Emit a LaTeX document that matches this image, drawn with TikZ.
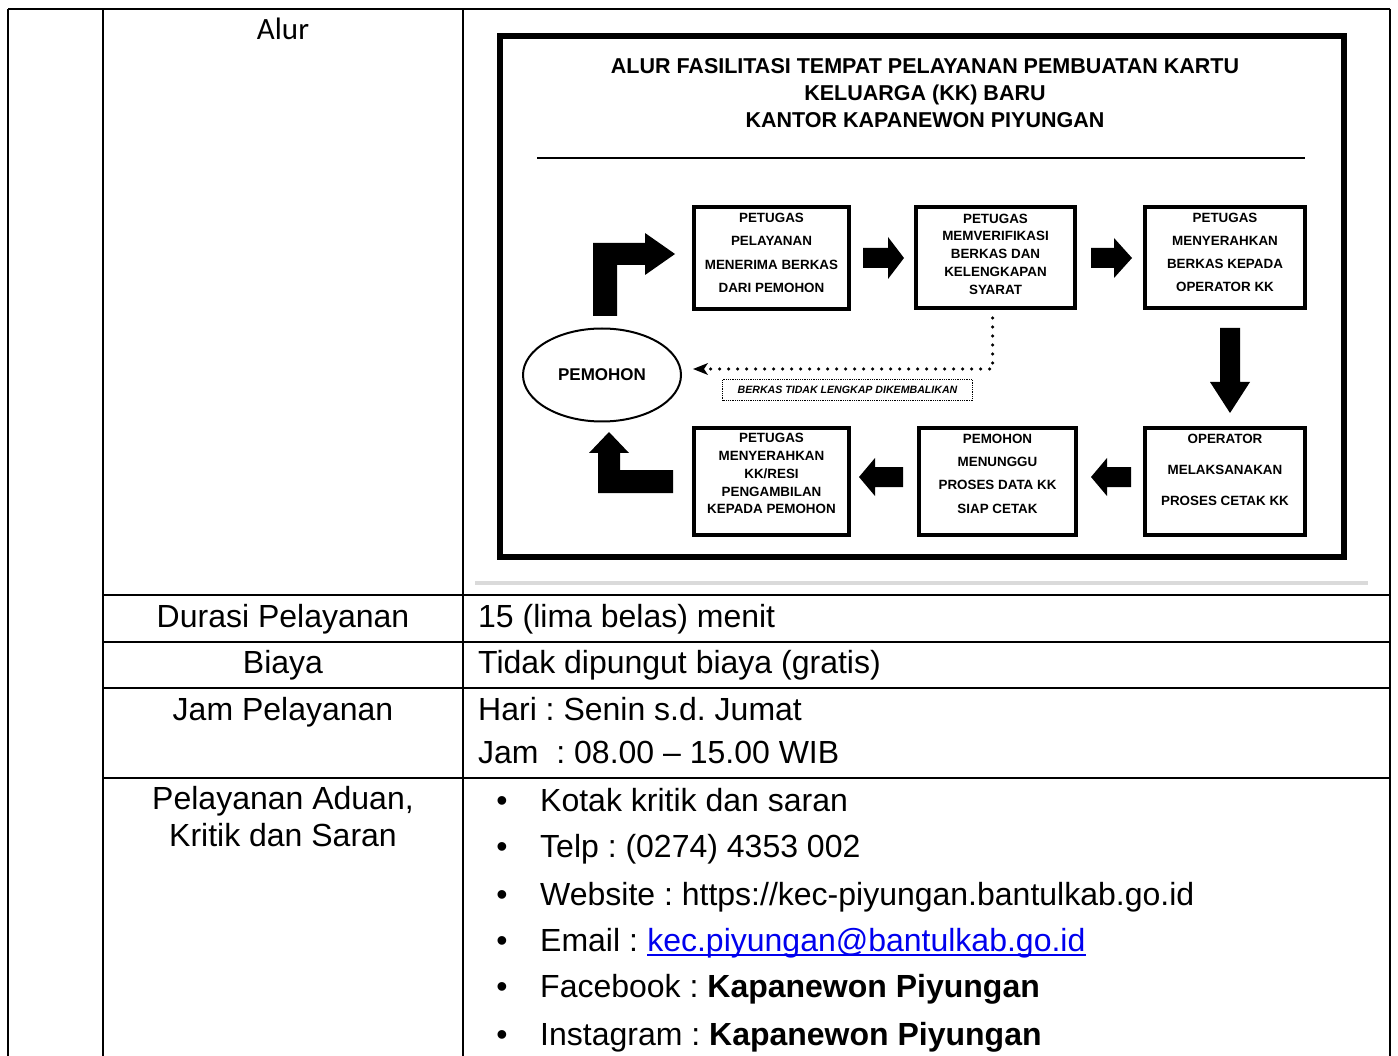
\documentclass[tikz,border=0pt]{standalone}
\usepackage{fontspec}
\setmainfont{Liberation Sans}
\newfontfamily\calfont{Carlito}
\usetikzlibrary{arrows.meta,shapes.geometric}
\definecolor{linkblue}{RGB}{0,0,238}
\definecolor{rulegray}{RGB}{218,218,218}
\frenchspacing
\begin{document}
\begin{tikzpicture}[x=1pt,y=-1pt,
  tline/.style={line width=2.4pt},
  lbl/.style={inner sep=0pt, anchor=base, font=\fontsize{32}{38}\selectfont},
  rtxt/.style={inner sep=0pt, anchor=base west, font=\fontsize{32}{38}\selectfont},
  bul/.style={inner sep=0pt, anchor=base, font=\fontsize{32}{38}\selectfont},
  fbox/.style={draw, line width=4pt, inner sep=0pt, align=center},
  tA/.style={font=\bfseries\fontsize{13.4}{23.3}\selectfont},
  tB/.style={font=\bfseries\fontsize{13.4}{17.8}\selectfont},
  tC/.style={font=\bfseries\fontsize{13.4}{31}\selectfont},
  blk/.style={fill=black},
  dots/.style={line width=3.5pt, dash pattern=on 0pt off 9pt, line cap=round},
  ttl/.style={inner sep=0pt, anchor=base, font=\bfseries\fontsize{21.5}{24}\selectfont}
]
\useasboundingbox (0,0) rectangle (1398,1056);
% table
\draw[tline] (8,9) -- (1390,9);
\draw[tline] (8,9) -- (8,1056);
\draw[tline] (103,9) -- (103,1056);
\draw[tline] (463,9) -- (463,1056);
\draw[tline] (1390,9) -- (1390,1056);
\foreach \yy in {595,642,688,778} \draw[tline] (103,\yy) -- (1390,\yy);
% left column labels
\node[inner sep=0pt, anchor=base, font=\calfont\fontsize{31}{36}\selectfont] (lalur) at (283,40) {Alur};
\node[lbl] (ldur) at (283,627) {Durasi Pelayanan};
\node[lbl] (lbia) at (283,673) {Biaya};
\node[lbl] (ljam) at (283,720) {Jam Pelayanan};
\node[lbl] (ladu1) at (283,809) {Pelayanan Aduan,};
\node[lbl] (ladu2) at (283,846) {Kritik dan Saran};
% right column
\node[rtxt] (rdur) at (478,627) {15 (lima belas) menit};
\node[rtxt] (rbia) at (478,673) {Tidak dipungut biaya (gratis)};
\node[rtxt] (rjam1) at (478,720) {Hari : Senin s.d. Jumat};
\node[rtxt] (rjam2) at (478,763) {Jam\ \ : 08.00 – 15.00 WIB};
\foreach \yy/\nm in {811/b1,857/b2,905/b3,951/b4,997/b5,1045/b6}
  \node[bul] (\nm) at (502,\yy) {•};
\node[rtxt] (k1) at (540,811) {Kotak kritik dan saran};
\node[rtxt] (k2) at (540,857) {Telp : (0274) 4353 002};
\node[rtxt] (k3) at (540,905) {Website : https://kec-piyungan.bantulkab.go.id};
\node[rtxt] (k4) at (540,951) {Email :\ \null};
\node[rtxt, text=linkblue] (k4l) at (k4.base east) {kec.piyungan@bantulkab.go.id};
\draw[linkblue, line width=2pt] ([yshift=-4pt]k4l.base west) -- ([yshift=-4pt]k4l.base east);
\node[rtxt] (k5) at (540,997) {Facebook : \textbf{Kapanewon Piyungan}};
\node[rtxt] (k6) at (540,1045) {Instagram : \textbf{Kapanewon Piyungan}};
% diagram frame
\draw[line width=6pt] (500,36) rectangle (1344,557);
\draw[rulegray, line width=4pt] (475,583) -- (1368,583);
\node[ttl] (t1) at (925,74) {ALUR FASILITASI TEMPAT PELAYANAN PEMBUATAN KARTU};
\node[ttl] (t2) at (925,101) {KELUARGA (KK) BARU};
\node[ttl] (t3) at (925,128) {KANTOR KAPANEWON PIYUNGAN};
\draw[line width=2.5pt] (537,158) -- (1305,158);
% boxes
\node[fbox, tA, minimum width=155, minimum height=102] (s1) at (771.5,258) {PETUGAS\\PELAYANAN\\MENERIMA BERKAS\\DARI PEMOHON\\[-13pt]\mbox{}};
\node[fbox, tB, minimum width=159, minimum height=101] (s2) at (995.5,257.5) {PETUGAS\\MEMVERIFIKASI\\BERKAS DAN\\KELENGKAPAN\\SYARAT\\[-11pt]\mbox{}};
\node[fbox, tA, minimum width=160, minimum height=101] (s3) at (1225,257.5) {PETUGAS\\MENYERAHKAN\\BERKAS KEPADA\\OPERATOR KK\\[-13pt]\mbox{}};
\node[fbox, tC, minimum width=160, minimum height=107] (s4) at (1225,481.5) {OPERATOR\\MELAKSANAKAN\\PROSES CETAK KK\\[-8pt]\mbox{}};
\node[fbox, tA, minimum width=157, minimum height=107] (s5) at (997.5,481.5) {PEMOHON\\MENUNGGU\\PROSES DATA KK\\SIAP CETAK\\[-7.5pt]\mbox{}};
\node[fbox, tB, minimum width=155, minimum height=107] (s6) at (771.5,481.5) {PETUGAS\\MENYERAHKAN\\KK/RESI\\PENGAMBILAN\\KEPADA PEMOHON\\[-2pt]\mbox{}};
\node[ellipse, draw, line width=2pt, minimum width=158, minimum height=93, inner sep=0pt, font=\bfseries\fontsize{17}{20}\selectfont] (pem) at (602,375) {\raisebox{-3pt}{PEMOHON}};
% block arrows
\fill[blk] (863,248) -- (888,248) -- (888,237) -- (904,258) -- (888,279) -- (888,268) -- (863,268) -- cycle;
\fill[blk] (1091,248) -- (1114,248) -- (1114,238) -- (1132,258) -- (1114,278) -- (1114,268) -- (1091,268) -- cycle;
\fill[blk] (1220,328) -- (1240,328) -- (1240,382) -- (1250,382) -- (1230,413) -- (1210,382) -- (1220,382) -- cycle;
\fill[blk] (1131,467) -- (1107,467) -- (1107,458) -- (1091,477) -- (1107,496) -- (1107,487) -- (1131,487) -- cycle;
\fill[blk] (903,467) -- (875,467) -- (875,458) -- (859,477) -- (875,496) -- (875,487) -- (903,487) -- cycle;
\fill[blk] (593,316) -- (593,243) -- (645,243) -- (645,233) -- (675,254) -- (645,275) -- (645,265) -- (617,265) -- (617,316) -- cycle;
\fill[blk] (673,470) -- (673,493) -- (598,493) -- (598,453) -- (589,453) -- (609,432) -- (629,453) -- (620,453) -- (620,470) -- cycle;
% dotted return
\draw[dots] ([xshift=-3pt,yshift=-8pt]s2.south) |- ([xshift=26pt,yshift=6pt]pem.east);
\fill[blk] ([xshift=11pt,yshift=6pt]pem.east) coordinate (tipb) -- ++(15,-6) -- ++(-4,6) -- ++(4,6) -- cycle;
\node[draw, densely dotted, line width=0.8pt, minimum width=250, minimum height=21, inner sep=0pt, font=\bfseries\itshape\fontsize{10.6}{12}\selectfont] (lab) at (847.5,390) {BERKAS TIDAK LENGKAP DIKEMBALIKAN};
\end{tikzpicture}
\end{document}
